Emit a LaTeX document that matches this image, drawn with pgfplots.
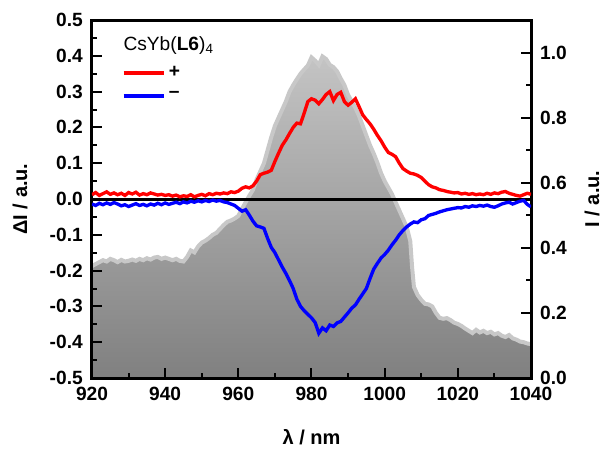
\documentclass[border=0pt]{standalone}
\usepackage{fontspec}
\setmainfont{Liberation Sans}
\usepackage{pgfplots}
\pgfplotsset{compat=1.18}

\definecolor{gtop}{RGB}{196,196,196}
\definecolor{gbot}{RGB}{128,128,128}
\definecolor{goutl}{RGB}{200,200,200}

\pgfplotstableread{
lam I
920 0.344
921 0.350
922 0.356
923 0.362
924 0.358
925 0.366
926 0.362
927 0.356
928 0.363
929 0.358
930 0.360
931 0.364
932 0.360
933 0.366
934 0.362
935 0.368
936 0.364
937 0.370
938 0.372
939 0.366
940 0.370
941 0.366
942 0.362
943 0.366
944 0.360
945 0.358
946 0.372
947 0.392
948 0.386
949 0.404
950 0.416
951 0.422
952 0.430
953 0.440
954 0.446
955 0.458
956 0.470
957 0.480
958 0.484
959 0.490
960 0.498
961 0.520
962 0.540
963 0.560
964 0.578
965 0.610
966 0.635
967 0.660
968 0.700
969 0.740
970 0.775
971 0.800
972 0.825
973 0.850
974 0.880
975 0.900
976 0.918
977 0.935
978 0.948
979 0.960
980 0.985
981 0.975
982 0.962
983 0.988
984 0.980
985 0.962
986 0.955
987 0.942
988 0.920
989 0.900
990 0.870
991 0.850
992 0.830
993 0.805
994 0.775
995 0.745
996 0.715
997 0.690
998 0.662
999 0.630
1000 0.605
1001 0.585
1002 0.565
1003 0.540
1004 0.515
1005 0.490
1006 0.465
1007 0.420
1007.5 0.340
1008 0.280
1009 0.255
1010 0.240
1011 0.228
1012 0.226
1013 0.220
1014 0.200
1015 0.185
1016 0.182
1017 0.184
1018 0.178
1019 0.170
1020 0.166
1021 0.160
1022 0.152
1023 0.145
1024 0.138
1025 0.148
1026 0.140
1027 0.145
1028 0.138
1029 0.142
1030 0.134
1031 0.138
1032 0.130
1033 0.126
1034 0.132
1035 0.122
1036 0.118
1037 0.112
1038 0.110
1039 0.106
1040 0.104
}\intensity

\pgfplotstableread{
lam dI
920 0.012
921 0.018
922 0.010
923 0.015
924 0.020
925 0.013
926 0.017
927 0.012
928 0.016
929 0.010
930 0.018
931 0.014
932 0.019
933 0.011
934 0.015
935 0.012
936 0.017
937 0.014
938 0.011
939 0.013
940 0.010
941 0.012
942 0.008
943 0.011
944 0.006
945 0.009
946 0.007
947 0.012
948 0.006
949 0.010
950 0.013
951 0.009
952 0.015
953 0.012
954 0.016
955 0.014
956 0.017
957 0.015
958 0.020
959 0.018
960 0.022
961 0.030
962 0.034
963 0.031
964 0.037
965 0.050
966 0.068
967 0.072
968 0.075
969 0.080
970 0.105
971 0.128
972 0.150
973 0.165
974 0.183
975 0.200
976 0.212
977 0.210
978 0.240
979 0.272
980 0.280
981 0.276
982 0.266
983 0.278
984 0.292
985 0.300
986 0.275
987 0.292
988 0.298
989 0.272
990 0.262
991 0.270
992 0.280
993 0.258
994 0.235
995 0.222
996 0.210
997 0.195
998 0.178
999 0.163
1000 0.145
1001 0.130
1002 0.125
1003 0.118
1004 0.100
1005 0.085
1006 0.078
1007 0.072
1008 0.070
1009 0.066
1010 0.060
1011 0.050
1012 0.040
1013 0.034
1014 0.031
1015 0.026
1016 0.024
1017 0.021
1018 0.019
1019 0.017
1020 0.018
1021 0.014
1022 0.016
1023 0.013
1024 0.015
1025 0.012
1026 0.014
1027 0.012
1028 0.016
1029 0.013
1030 0.017
1031 0.015
1032 0.019
1033 0.021
1034 0.016
1035 0.013
1036 0.010
1037 0.008
1038 0.012
1039 0.016
1040 0.013
}\plusdata

\pgfplotstableread{
lam dI
920 -0.014
921 -0.018
922 -0.012
923 -0.016
924 -0.011
925 -0.015
926 -0.010
927 -0.014
928 -0.019
929 -0.016
930 -0.021
931 -0.017
932 -0.013
933 -0.018
934 -0.015
935 -0.019
936 -0.014
937 -0.017
938 -0.012
939 -0.016
940 -0.011
941 -0.015
942 -0.012
943 -0.009
944 -0.013
945 -0.008
946 -0.011
947 -0.006
948 -0.009
949 -0.005
950 -0.008
951 -0.004
952 -0.007
953 -0.003
954 -0.006
955 -0.004
956 -0.008
957 -0.010
958 -0.014
959 -0.018
960 -0.026
961 -0.034
962 -0.030
963 -0.045
964 -0.062
965 -0.075
966 -0.078
967 -0.082
968 -0.110
969 -0.135
970 -0.150
971 -0.170
972 -0.190
973 -0.208
974 -0.228
975 -0.250
976 -0.280
977 -0.300
978 -0.312
979 -0.322
980 -0.332
981 -0.345
982 -0.375
983 -0.360
984 -0.368
985 -0.352
986 -0.356
987 -0.346
988 -0.342
989 -0.330
990 -0.318
991 -0.305
992 -0.296
993 -0.280
994 -0.265
995 -0.250
996 -0.222
997 -0.196
998 -0.180
999 -0.165
1000 -0.155
1001 -0.143
1002 -0.128
1003 -0.115
1004 -0.100
1005 -0.088
1006 -0.078
1007 -0.070
1008 -0.064
1009 -0.066
1010 -0.058
1011 -0.055
1012 -0.046
1013 -0.043
1014 -0.040
1015 -0.036
1016 -0.033
1017 -0.030
1018 -0.028
1019 -0.026
1020 -0.024
1021 -0.025
1022 -0.021
1023 -0.023
1024 -0.019
1025 -0.021
1026 -0.018
1027 -0.020
1028 -0.017
1029 -0.021
1030 -0.023
1031 -0.019
1032 -0.014
1033 -0.011
1034 -0.009
1035 -0.014
1036 -0.010
1037 -0.006
1038 -0.004
1039 -0.015
1040 -0.022
}\minusdata

\begin{document}
\begin{tikzpicture}
\pgfplotsset{
  common/.style={
    scale only axis, width=263.4pt, height=214.8pt,
    xmin=920, xmax=1040,
    axis line style={line width=1.8pt},
    tick style={line width=1.2pt, black},
    major tick length=6pt, minor tick length=3pt,
    tick align=inside,
    /pgf/number format/assume math mode=true,
    ticklabel style={font=\bfseries\fontsize{11.5}{13}\selectfont},
    label style={font=\bfseries\fontsize{12}{14}\selectfont},
  }
}
% right axis: emission intensity
\begin{axis}[common,
  ymin=0, ymax=1.1,
  hide x axis,
  axis y line*=right,
  ytick={0,0.2,0.4,0.6,0.8,1.0},
  minor y tick num=1,
  yticklabel style={/pgf/number format/fixed, /pgf/number format/fixed zerofill,
    /pgf/number format/precision=1, xshift=2pt},
  ylabel={I / a.u.},
  ylabel style={at={(axis description cs:1.139,0.5)}, anchor=center},
]
\addplot[draw=none, top color=gtop, bottom color=gbot] table[x=lam, y=I] {\intensity} \closedcycle;
\addplot[goutl, line width=2.4pt] table[x=lam, y=I] {\intensity};
\end{axis}
% left axis: CPL
\begin{axis}[common, name=ax,
  ymin=-0.5, ymax=0.5,
  xtick pos=bottom, ytick pos=left,
  xtick={920,940,...,1040},
  minor x tick num=1,
  ytick={-0.5,-0.4,...,0.5},
  minor y tick num=1,
  xticklabel style={/pgf/number format/1000 sep={}, yshift=-2pt},
  yticklabel style={/pgf/number format/fixed, /pgf/number format/fixed zerofill,
    /pgf/number format/precision=1, xshift=-2pt},
  xlabel={λ / nm},
  xlabel style={at={(axis description cs:0.5,-0.165)}, anchor=center},
  ylabel={ΔI / a.u.},
  ylabel style={at={(axis description cs:-0.164,0.5)}, anchor=center},
  legend style={at={(rel axis cs:0.056,0.89)}, anchor=north west, draw=none, fill=none,
    font=\bfseries\fontsize{11.5}{13}\selectfont, row sep=3pt},
  legend cell align=left,
  legend image code/.code={\draw[#1, line width=2.2pt] (0pt,0pt) -- (24pt,0pt);},
]
\addplot[black, line width=1.8pt, forget plot] coordinates {(920,0) (1040,0)};
\addplot[red, line width=2pt] table[x=lam, y=dI] {\plusdata};
\addplot[blue, line width=2pt] table[x=lam, y=dI] {\minusdata};
\legend{+, –}
\node[anchor=west, inner sep=0pt, font=\fontsize{11.5}{13}\selectfont] at (rel axis cs:0.071,0.93) {CsYb(\textbf{L6})\textsubscript{4}};
\end{axis}
\pgfresetboundingbox
\path ([shift={(-55.2pt,-43.8pt)}]ax.south west) rectangle ([shift={(43.2pt,12pt)}]ax.north east);
\end{tikzpicture}
\end{document}
